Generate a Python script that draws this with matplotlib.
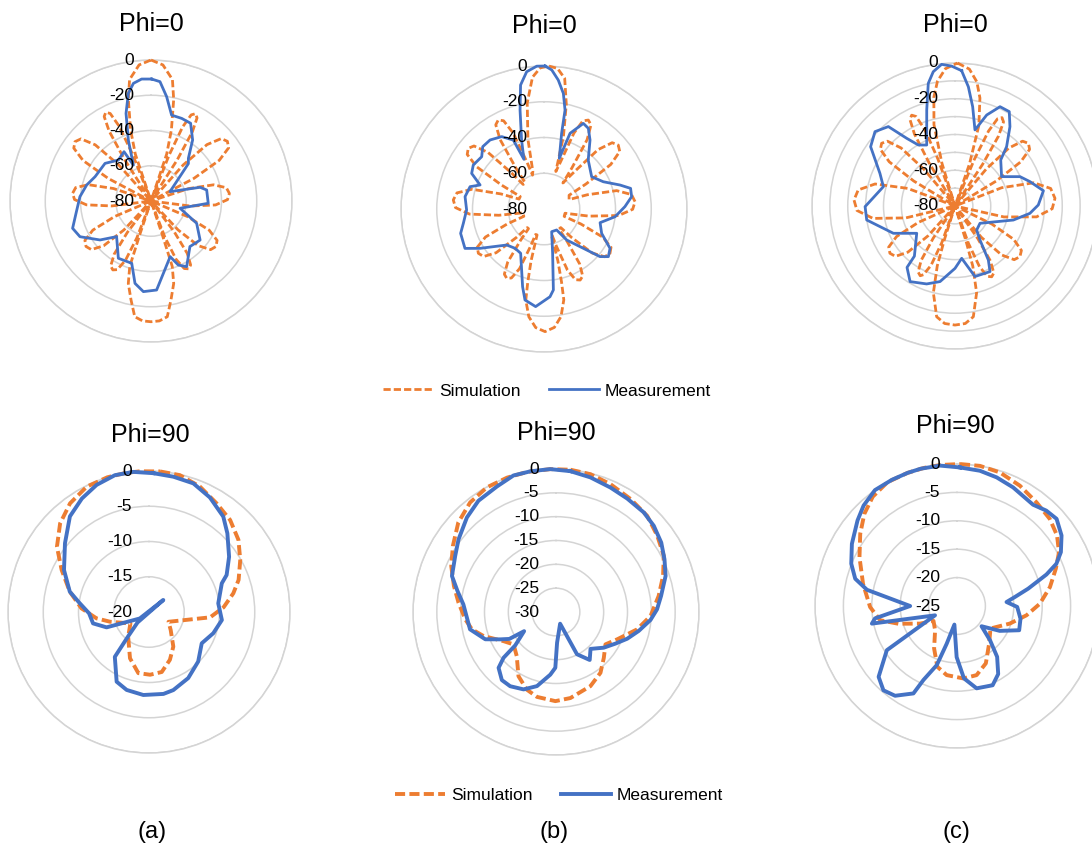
import numpy as np
import matplotlib
matplotlib.use("Agg")
import matplotlib.pyplot as plt
from matplotlib.transforms import offset_copy

plt.rcParams['font.family'] = ['Liberation Sans', 'DejaVu Sans']

ORANGE = '#ED7D31'
BLUE = '#4472C4'
GRID = '#D4D4D4'

# ---------- (a) Phi=0 ----------
a0_sim_deg = [0, 5, 10, 12.6, 16, 18.5, 20.5,
              21.5, 23.1, 25, 27, 29, 30.9, 32.5, 33.5,
              40, 41.8, 44.8, 48.4, 52, 55.6, 59.2, 62.2, 64,
              69.5, 71.7, 75.5, 80, 84.5, 89, 93.5, 97.3, 99.5,
              111, 113.1, 116.6, 120.8, 125, 129.2, 133.4, 136.9, 139,
              141.5, 143, 145.3, 148.2, 151, 153.8, 156.7, 159, 160.5,
              161, 161.5, 162, 164.6, 168.6, 172, 176, 180, 184, 188, 191.4, 195.4, 198, 198.5, 199,
              199.5, 201, 203.3, 206.2, 209, 211.8, 214.7, 217, 218.5,
              221, 223.1, 226.6, 230.8, 235, 239.2, 243.4, 246.9, 249,
              260.6, 262.8, 266.6, 271.1, 275.6, 280.1, 284.6, 288.4, 290.6,
              296, 297.8, 300.8, 304.4, 308, 311.6, 315.2, 318.2, 320,
              326.5, 327.5, 329.1, 331, 333, 335, 336.9, 338.5, 339.5,
              341.5, 344, 347.4, 350, 355]
a0_sim_db = [0, -2.5, -10, -21, -38, -52, -80,
             -52.2, -34.4, -26.1, -24.4, -26.1, -34.4, -52.2, -80,
             -80, -52.5, -34.9, -26.65, -25, -26.65, -34.9, -52.5, -80,
             -80, -57.6, -43.3, -36.6, -35.3, -36.6, -43.3, -57.6, -80,
             -80, -57.5, -43.1, -36.35, -35, -36.35, -43.1, -57.5, -80,
             -80, -58, -43.9, -37.3, -36, -37.3, -43.9, -58, -80,
             -80, -60, -41, -31.5, -22.7, -13.7, -11.8, -11.5, -11.8, -13.7, -22.7, -31.5, -41, -60, -80,
             -80, -57.6, -43.3, -36.6, -35.3, -36.6, -43.3, -57.6, -80,
             -80, -57.5, -43.1, -36.35, -35, -36.35, -43.1, -57.5, -80,
             -80, -57.6, -43.3, -36.6, -35.3, -36.6, -43.3, -57.6, -80,
             -80, -52.65, -35.1, -26.9, -25.3, -26.9, -35.1, -52.65, -80,
             -80, -51.75, -33.7, -25.2, -23.5, -25.2, -33.7, -51.75, -80,
             -52, -38, -21, -10, -2.5]
a0_meas_deg = [0.3, 4.3, 8.5, 13.5, 20.4, 27, 34.3, 41.2, 45, 63.8, 74.4, 78.8, 92.3, 104, 116, 128.5,
               139.5, 151.5, 156.9, 161, 176.4, 184.8, 191, 197.2, 209.7, 224, 232.6, 243.3, 250.8, 260.7,
               273.5, 284, 293.5, 309.3, 321.5, 331.3, 333.9, 339.6, 344.1, 348.1, 351.5, 355.6]
a0_meas_db = [-10.8, -12.1, -20.1, -29.9, -30, -30.5, -38.1, -47.8, -50, -68, -51.1, -47.8, -47.5, -63, -51.2, -44.4,
              -46, -37.6, -40.5, -46.6, -29.4, -28.4, -32.4, -43, -42.6, -51.9, -43.6, -34.9, -32.9, -36.9,
              -39.6, -42.4, -45.4, -46.3, -50.3, -48.1, -57.3, -43.1, -28.3, -17.6, -12.5, -10.6]

# ---------- (b) Phi=0 ----------
b0_sim_deg = [2, 5.5, 9, 12, 15, 17.5,
              19.3, 21.5, 23.8, 26.5, 29.2, 31.9, 34.2, 36,
              39.3, 42.3, 45.8, 49.3, 52.8, 56.3, 59.2, 61.3,
              69.4, 71.8, 75.8, 80.6, 85.4, 90.2, 95, 99, 101.4,
              110, 112.1, 115.6, 119.8, 124, 128.2, 132.4, 135.9, 138,
              143, 144.5, 147, 150, 153, 156, 159, 161.5, 163,
              164, 165, 166.5, 167.7, 171, 175, 179.5, 184, 188, 191.3, 192.5, 194, 195,
              198.3, 199.8, 202.3, 205.3, 208.3, 211.3, 214.3, 216.8, 218.3,
              222, 224.1, 227.6, 231.8, 236, 240.2, 244.4, 247.9, 250,
              259.7, 262.1, 266.1, 270.9, 275.7, 280.5, 285.3, 289.3, 291.7,
              297.7, 299.4, 302.1, 305.4, 308.7, 312, 315.3, 318, 319.7,
              324.3, 325.6, 327.7, 330.2, 332.8, 335.4, 337.9, 340, 341.3,
              343.5, 347, 351, 355, 358.5]
b0_sim_db = [0, -1, -6, -20, -38, -58,
             -52.2, -34.4, -26.1, -24.4, -26.1, -34.4, -52.2, -62,
             -52.6, -35.1, -26.8, -25.2, -26.8, -35.1, -52.6, -64,
             -65, -54.5, -38.1, -30.4, -28.9, -30.4, -38.1, -54.5, -68,
             -68, -57.75, -43.5, -36.8, -35.5, -36.8, -43.5, -57.75, -66,
             -66, -57.7, -43.4, -36.7, -35.4, -36.7, -43.4, -57.7, -65,
             -65, -50, -38, -28, -19.1, -13.5, -11.4, -13.5, -19.1, -28, -38, -50, -65,
             -65, -58, -43.9, -37.3, -36, -37.3, -43.9, -58, -66,
             -66, -57.85, -43.7, -37, -35.7, -37, -43.7, -57.85, -68,
             -68, -54.5, -38.2, -30.5, -29, -30.5, -38.2, -54.5, -65,
             -65, -52.85, -35.5, -27.3, -25.7, -27.3, -35.5, -52.85, -62,
             -62, -52, -34.1, -25.7, -24, -25.7, -34.1, -52, -60,
             -58, -40, -20, -6, -1]
b0_meas_deg = [0.4, 3.2, 6.3, 9.5, 12, 13.1, 16.8, 19, 24.7, 28.8, 33.7, 42.1, 55.9, 65.3, 72.5, 76.6,
               82, 88.3, 96.2, 103.7, 112.9, 120.8, 126.5, 130.4, 136.3, 143.8, 148.9, 161.3, 169, 173.4,
               176.1, 184.9, 191.8, 195.4, 207.8, 216.4, 226, 238.4, 243.5, 253.7, 260, 269.3, 278.9,
               286.8, 290.6, 296.2, 301.9, 310, 315.5, 322, 329.7, 336, 338, 342, 346.4, 349.3, 352.8, 357.1]
b0_meas_db = [0, -2.1, -7.4, -14.4, -23.4, -36.5, -50.4, -35.2, -27.3, -28.5, -33.6, -43.1, -47.8, -43.5, -35.4, -30.2,
              -30.5, -34.7, -40, -47.7, -45, -37, -35.2, -38.9, -50.9, -58.5, -66.3, -66.6, -54.7, -34.4,
              -30.8, -25.2, -28, -34.9, -52, -52.7, -51, -38, -30.6, -31.4, -34.2, -36.7, -35.3,
              -36.8, -41.8, -34.9, -33.4, -34.5, -31.1, -31, -33.1, -37.8, -50, -39.4, -23, -9.4, -2.6, 0]

# ---------- (c) Phi=0 ----------
c0_sim_deg = [1, 6, 10, 13, 16.5, 19, 21,
              22.5, 24.1, 26, 28, 30, 31.9, 33.5, 34.5,
              38.5, 40.2, 42.9, 46.2, 49.5, 52.8, 56.1, 58.8, 60.5,
              65.6, 68.6, 73.6, 79.6, 85.6, 91.6, 97.6, 102.6, 105.6,
              114, 116.1, 119.6, 123.8, 128, 132.2, 136.4, 139.9, 142,
              143.6, 145, 147.2, 149.9, 152.6, 155.3, 158, 160.2, 161.6,
              162, 162.5, 163.5, 166, 170.6, 175, 180, 185, 189.4, 194, 196.5, 197.5, 198,
              198.5, 199.8, 202, 204.7, 206.5, 209.2, 211.9, 214.1, 215.5,
              220, 222.1, 225.6, 229.8, 234, 238.2, 242.4, 245.9, 248,
              253.4, 256.4, 261.4, 267.4, 273.4, 279.4, 285.4, 290.4, 293.4,
              299.5, 301.2, 303.9, 307.2, 310.5, 313.8, 317.1, 319.8, 321.5,
              328, 329, 330.6, 332.5, 334.5, 336.5, 338.4, 340, 341,
              343, 345.5, 349, 352, 356]
c0_sim_db = [0, -3, -9.5, -18, -33, -55, -80,
             -52, -34.1, -25.7, -24, -25.7, -34.1, -52, -80,
             -80, -53, -35.7, -27.6, -26, -27.6, -35.7, -53, -80,
             -80, -51.95, -34, -25.6, -23.9, -25.6, -34, -51.95, -80,
             -80, -57, -42.2, -35.3, -33.9, -35.3, -42.2, -57, -80,
             -80, -57.7, -43.4, -36.7, -35.4, -36.7, -43.4, -57.7, -80,
             -80, -60, -45, -30, -17.2, -14, -13.4, -14, -17.2, -30, -45, -60, -80,
             -80, -58.2, -44.2, -37.7, -36.4, -37.7, -44.2, -58.2, -80,
             -80, -57.5, -43.1, -36.35, -35, -36.35, -43.1, -57.5, -80,
             -80, -51.7, -33.6, -25.1, -23.4, -25.1, -33.6, -51.7, -80,
             -80, -53, -35.7, -27.6, -26, -27.6, -35.7, -53, -80,
             -80, -51.85, -33.8, -25.4, -23.7, -25.4, -33.8, -51.85, -80,
             -55, -33, -18, -9.5, -3]
c0_meas_deg = [2.8, 6.4, 10.1, 14.7, 19.2, 24.4, 29.9, 34.7, 41, 44.8, 57.8, 65.7, 72, 80.2, 89.3, 95.6,
               103.5, 110.6, 124.7, 137.9, 143.7, 148.3, 151.9, 164.2, 172.7, 180, 191.2, 200, 210.7, 218,
               219, 234.5, 246.1, 261, 269.6, 285.1, 293.5, 305.1, 312.9, 320, 324.5, 329, 335.1, 343.6,
               347.7, 350.8, 354.6, 358.6]
c0_meas_db = [-4.2, -12.9, -23.6, -36, -26.1, -19, -19.1, -26, -36, -43.7, -49.2, -40.1, -35.9, -29.8, -33.4, -37.9,
              -46.4, -55.1, -63, -61.9, -56.4, -44.5, -38.4, -39, -50.5, -45.1, -36.9, -33.6, -30.8, -36.4,
              -43.9, -53.7, -42.3, -30, -29.7, -38.5, -34.2, -22.3, -18.9, -22, -33.5, -40.2, -42.4, -24,
              -9.8, -3.9, -0.4, -1.7]

# ---------- (a) Phi=90 ----------
a90_sim_deg = [4.5, 12.7, 22.1, 31.9, 41.4, 51.1, 60.3, 70.3, 77.5, 86.4, 95, 116.6, 129.7, 144.9, 156.4,
               168, 179, 189.9, 202.3, 220, 238.3, 256, 263.1, 273.1, 284.4, 295.7, 305.3, 314.9, 324,
               333.6, 342.8, 350.3, 356.3]
a90_sim_db = [0, -0.1, -0.8, -1.85, -2.6, -3.7, -5.1, -6.5, -7.75, -9.4, -11.3, -16.9, -16, -14, -12.6,
              -11.3, -11.1, -11.2, -12.9, -15.4, -16.9, -14.3, -12.5, -10.4, -8.4, -6.25, -4, -2.2, -0.95,
              -0.15, 0, 0, 0]
a90_meas_deg = [1.8, 10.2, 19, 28, 37.9, 44.9, 55.4, 64.5, 68.5, 82.9, 96.3, 108.3, 120.7, 135.2, 149.3,
                162.7, 170, 183.9, 196, 204.9, 217.3, 220.7, 227.6, 230, 234.9, 250.1, 258.5, 268.7, 277.2,
                284.4, 296.3, 309.3, 320.4, 329.4, 337.6, 346, 353.6]
a90_meas_db = [-0.3, -0.5, -0.7, -1.6, -2.85, -4.25, -6.2, -7.8, -8.9, -10.1, -9.6, -10.4, -11.3, -10.1, -9.1,
               -8.4, -8.2, -8.2, -8.5, -9.1, -12, -15.5, -17.8, -22.65, -18.4, -13.6, -11.9, -11.5, -10.1,
               -8.4, -6.55, -4.6, -2.4, -1.3, -0.5, 0, 0]

# ---------- (b) Phi=90 ----------
b90_sim_deg = [5.8, 14, 23.1, 33.4, 43.5, 53, 62.5, 71.4, 81.1, 92.4, 102.1, 114.1, 123.2, 133.8, 143.8,
               155.1, 170.5, 180.4, 192.6, 200.6, 210.3, 221.6, 232.6, 241, 251.6, 258.3, 265.4, 275.5,
               284.3, 293.7, 302.7, 312.5, 321.9, 331, 340, 348.4, 357.7]
b90_sim_db = [0, -0.2, -0.85, -1.6, -2.2, -3.4, -4.5, -6.3, -8.2, -10.15, -12.6, -15.95, -17.6, -16.1, -14.2,
              -12.85, -11.7, -11.3, -11.75, -12.6, -14.4, -17.6, -18.8, -17.4, -14, -12, -10.9, -9.45,
              -7.9, -6, -4.3, -2.2, -0.8, -0.1, 0, 0, 0]
b90_meas_deg = [5.8, 14.3, 23.6, 32.1, 41.4, 48.6, 56.6, 64.1, 71.8, 81.3, 88.5, 94.8, 102.9, 110.6, 118.1,
                126.8, 136.9, 144.9, 153.6, 160.6, 178, 180.7, 185.2, 194.4, 202.7, 211.7, 218.5, 225.8,
                228.9, 230.7, 239, 240, 243.8, 248.9, 258.6, 274.7, 282.1, 289.1, 299.1, 306.7, 316.7,
                325.1, 334.8, 342.7, 349.7, 357.7]
b90_meas_db = [-0.3, -0.85, -1.5, -1.9, -2.15, -2.65, -3.55, -4.7, -5.8, -7.7, -8.8, -10.1, -12.2, -14.05, -15.9,
               -17.5, -19.4, -17.7, -20.1, -27.4, -23.55, -18.3, -16.8, -13.95, -12.4, -11.7, -11.75, -13.2,
               -15.4, -18.95, -22.2, -18.7, -17, -14.1, -11.6, -10.5, -8.85, -6.9, -5.8, -4.5, -2.75,
               -1.55, -0.9, 0, 0, 0]

# ---------- (c) Phi=90 ----------
c90_sim_deg = [1.2, 9.3, 17.8, 27.6, 37.5, 46.8, 54.8, 62.2, 69.3, 78.5, 88.4, 97.6, 108.4, 123.9, 139.4,
               153.3, 164.2, 175, 188.5, 197.9, 208.3, 222.1, 237.6, 244.5, 253.2, 259.5, 269.3, 283.3,
               296.6, 306.7, 314.8, 322.4, 330.7, 339.6, 346.5, 353.2]
c90_sim_db = [0, 0, -0.3, -1.1, -2, -2.6, -3.45, -4.7, -6.4, -8.3, -10.4, -12.65, -15.2, -17.9, -16.3,
              -13.7, -12.35, -12.2, -12.7, -13.75, -16.5, -19.25, -20.1, -17.8, -14.2, -11.25, -9.7, -8,
              -5.8, -3.75, -2, -0.7, 0, 0, 0, 0]
c90_meas_deg = [1.2, 9.6, 17.1, 25.3, 36.9, 43.1, 48.8, 56, 62.6, 67, 70.6, 76.3, 81.2, 85.4, 90.9, 101.3,
                111.3, 120.2, 129.5, 136.1, 141.7, 148.8, 155.8, 166.6, 174.5, 180.4, 188, 195.3, 198.9,
                204.4, 206.5, 214.6, 221.1, 227.9, 237.8, 247, 258.3, 261.4, 270, 280.2, 285, 291.8,
                300.6, 310.7, 317.1, 324.7, 332.7, 339.7, 345.2, 353.1]
c90_meas_db = [-0.6, -0.85, -1.3, -1.9, -2.7, -2, -1.7, -2.8, -4.4, -6, -8.3, -12.1, -14.7, -16.25, -14.4, -13.6,
               -13.25, -16.3, -19.4, -16.6, -13.6, -11, -9.7, -10.1, -12.2, -16, -21.7, -18.1, -14,
               -10.7, -7.8, -5.8, -5.3, -6.4, -10.4, -20.8, -9.7, -10.4, -16.75, -8.9, -6.45, -4.95,
               -3.5, -1.9, -0.85, 0, 0, 0, 0, -0.1]

W, H = 1092, 846
fig = plt.figure(figsize=(W / 100, H / 100), dpi=100)
fig.patch.set_facecolor('white')


def radar_xy(deg, db, vmin):
    # radar-chart convention: values under the axis minimum land on the opposite side
    th = np.radians(np.asarray(deg, float))
    g = np.asarray(db, float)
    low = g < vmin
    th = np.where(low, th + np.pi, th)
    r = np.where(low, 2 * vmin - g, g)
    return np.append(th, th[0]), np.append(r, r[0])


def radar_panel(cx, cy, R, vmin, ring_step, label_step, sim, meas, lw):
    ax = fig.add_axes([(cx - R) / W, (H - cy - R) / H, 2 * R / W, 2 * R / H], projection='polar')
    ax.set_theta_zero_location('N')
    ax.set_theta_direction(-1)
    ax.set_facecolor('none')

    th, r = radar_xy(sim[0], sim[1], vmin)
    l_sim, = ax.plot(th, r, color=ORANGE, lw=lw, dashes=(2.6, 1.1), clip_on=False, zorder=3)
    th, r = radar_xy(meas[0], meas[1], vmin)
    l_meas, = ax.plot(th, r, color=BLUE, lw=lw, solid_joinstyle='round', clip_on=False, zorder=4)

    ax.set_ylim(vmin, 0)
    ax.set_xticks([])
    ax.set_yticks(np.arange(vmin + ring_step, 0.1, ring_step))
    ax.set_yticklabels([])
    ax.yaxis.grid(True, color=GRID, lw=1.1)
    ax.spines['polar'].set_color(GRID)
    ax.spines['polar'].set_linewidth(1.1)

    lab_tr = offset_copy(ax.transData, fig=fig, x=-17, y=0, units='dots')
    for v in np.arange(vmin, 0.1, label_step):
        ax.text(0, v, '%d' % v, transform=lab_tr, ha='right', va='center', fontsize=12.5, zorder=5)
    return l_sim, l_meas


top_lw = 2.0
bot_lw = 2.8

radar_panel(151, 201, 141, -80, 20, 20, (a0_sim_deg, a0_sim_db), (a0_meas_deg, a0_meas_db), top_lw)
radar_panel(544, 209, 143, -80, 20, 20, (b0_sim_deg, b0_sim_db), (b0_meas_deg, b0_meas_db), top_lw)
h_top = radar_panel(955, 206, 143, -80, 10, 20, (c0_sim_deg, c0_sim_db), (c0_meas_deg, c0_meas_db), top_lw)

radar_panel(149, 612, 141, -20, 5, 5, (a90_sim_deg, a90_sim_db), (a90_meas_deg, a90_meas_db), bot_lw)
radar_panel(556, 612, 143, -30, 5, 5, (b90_sim_deg, b90_sim_db), (b90_meas_deg, b90_meas_db), bot_lw)
h_bot = radar_panel(957, 606, 142, -25, 5, 5, (c90_sim_deg, c90_sim_db), (c90_meas_deg, c90_meas_db), bot_lw)

# panel titles
for x, y, s in [(151, 31, 'Phi=0'), (544, 33, 'Phi=0'), (955, 32, 'Phi=0'),
                (150, 442, 'Phi=90'), (556, 440, 'Phi=90'), (955, 433, 'Phi=90')]:
    fig.text(x / W, 1 - y / H, s, ha='center', va='baseline', fontsize=18)

for x, s in [(152, '(a)'), (554, '(b)'), (956, '(c)')]:
    fig.text(x / W, 1 - 832 / H, s, ha='center', va='center', fontsize=17)

leg_kw = dict(loc='center', ncol=2, frameon=False, fontsize=12.5, handlelength=2.9,
              handletextpad=0.35, columnspacing=1.6)
fig.legend(h_top, ['Simulation', 'Measurement'], bbox_to_anchor=(547 / W, 1 - 391 / H), **leg_kw)
fig.legend(h_bot, ['Simulation', 'Measurement'], bbox_to_anchor=(559 / W, 1 - 795 / H), **leg_kw)

fig.savefig('out.png', dpi=100)
